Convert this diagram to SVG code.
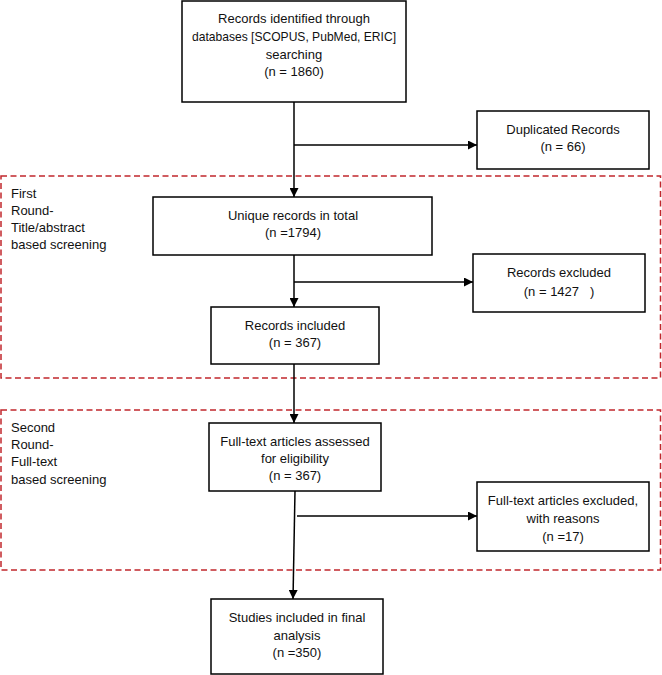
<svg xmlns="http://www.w3.org/2000/svg" width="662" height="675" viewBox="0 0 662 675">
<style>
.box{fill:#fff;stroke:#000;stroke-width:1.5}
.phase{fill:none;stroke:#c1272d;stroke-width:1.5;stroke-dasharray:6 3.5}
.t{font-family:"Liberation Sans",Arial,sans-serif;font-size:13px;fill:#111;text-anchor:middle;white-space:pre}
.lab{font-family:"Liberation Sans",Arial,sans-serif;font-size:13px;fill:#111}
.c{fill:none;stroke:#000;stroke-width:1.5}
</style>
<defs>
<marker id="ah" viewBox="0 0 10 10" refX="10" refY="5" markerWidth="6" markerHeight="6" markerUnits="strokeWidth" orient="auto">
<path d="M0,0 L10,5 L0,10 z" fill="#000"/>
</marker>
</defs>
<rect width="662" height="675" fill="#fff"/>
<g id="phase1">
<rect class="phase" x="1" y="176" width="659.5" height="202"/>
<text class="lab" x="11" y="198">First</text>
<text class="lab" x="11" y="215">Round-</text>
<text class="lab" x="11" y="232">Title/abstract</text>
<text class="lab" x="11" y="249">based screening</text>
</g>
<g id="phase2">
<rect class="phase" x="1" y="410" width="659.5" height="160"/>
<text class="lab" x="11" y="432">Second</text>
<text class="lab" x="11" y="449">Round-</text>
<text class="lab" x="11" y="466">Full-text</text>
<text class="lab" x="11" y="484">based screening</text>
</g>
<g id="connectors">
<path class="c" d="M294,102 V197" marker-end="url(#ah)"/>
<path class="c" d="M294,145 H477" marker-end="url(#ah)"/>
<path class="c" d="M294,255 V307" marker-end="url(#ah)"/>
<path class="c" d="M294,282 H473" marker-end="url(#ah)"/>
<path class="c" d="M294,364 V423" marker-end="url(#ah)"/>
<path class="c" d="M295,491 L293,599" marker-end="url(#ah)"/>
<path class="c" d="M297,516 H477" marker-end="url(#ah)"/>
</g>
<g id="identified">
<rect class="box" x="182" y="1" width="224" height="101"/>
<text class="t" x="294" y="23">Records identified through</text>
<text class="t" x="294" y="41" textLength="204" lengthAdjust="spacingAndGlyphs">databases [SCOPUS, PubMed, ERIC]</text>
<text class="t" x="294" y="59">searching</text>
<text class="t" x="294" y="76">(n = 1860)</text>
</g>
<g id="duplicated">
<rect class="box" x="477" y="111" width="172" height="58"/>
<text class="t" x="563" y="134">Duplicated Records</text>
<text class="t" x="563" y="151">(n = 66)</text>
</g>
<g id="unique">
<rect class="box" x="153" y="197" width="279" height="58"/>
<text class="t" x="293" y="220">Unique records in total</text>
<text class="t" x="293" y="237">(n =1794)</text>
</g>
<g id="excluded1">
<rect class="box" x="473" y="254" width="172" height="58"/>
<text class="t" x="559" y="277">Records excluded</text>
<text class="t" x="559" y="296">(n = 1427   )</text>
</g>
<g id="included">
<rect class="box" x="211" y="307" width="168" height="57"/>
<text class="t" x="295" y="330">Records included</text>
<text class="t" x="295" y="347">(n = 367)</text>
</g>
<g id="fulltext">
<rect class="box" x="209" y="423" width="172" height="68"/>
<text class="t" x="295" y="446">Full-text articles assessed</text>
<text class="t" x="295" y="463">for eligibility</text>
<text class="t" x="295" y="480">(n = 367)</text>
</g>
<g id="excluded2">
<rect class="box" x="477" y="482" width="172" height="69"/>
<text class="t" x="563" y="505">Full-text articles excluded,</text>
<text class="t" x="563" y="523">with reasons</text>
<text class="t" x="563" y="541">(n =17)</text>
</g>
<g id="final">
<rect class="box" x="211" y="599" width="172" height="75"/>
<text class="t" x="297" y="622">Studies included in final</text>
<text class="t" x="297" y="640">analysis</text>
<text class="t" x="297" y="657">(n =350)</text>
</g>
</svg>
